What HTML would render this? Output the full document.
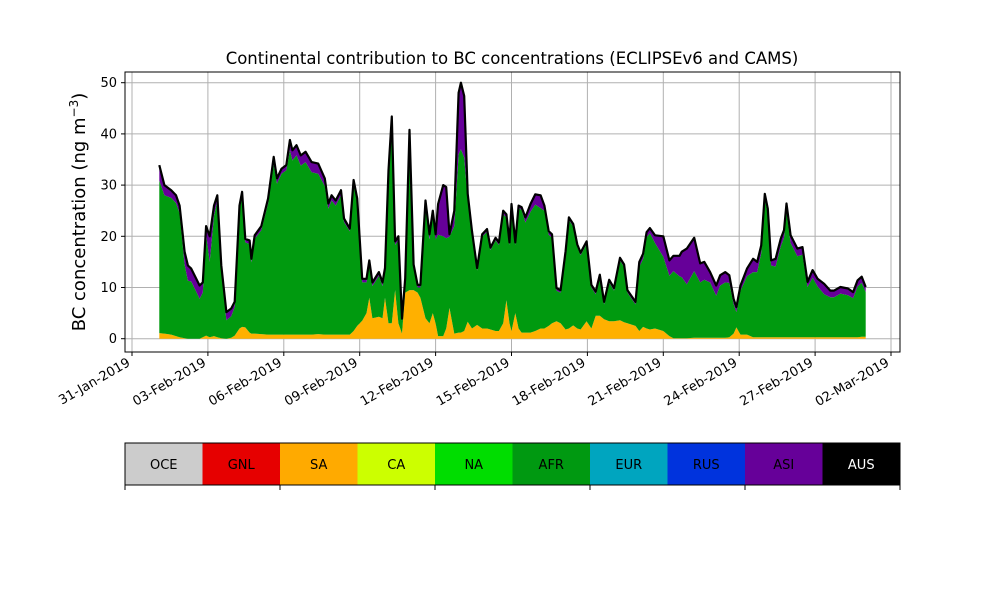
<!DOCTYPE html>
<html><head><meta charset="utf-8">
<style>
html,body{margin:0;padding:0;background:#fff;}
svg{display:block;font-family:"DejaVu Sans","Liberation Sans",sans-serif;}
</style></head>
<body>
<svg id="chart" width="1000" height="600" viewBox="0 0 1000 600" xmlns="http://www.w3.org/2000/svg">
  <rect x="0" y="0" width="1000" height="600" fill="#fff"/>
  <text x="512" y="64" text-anchor="middle" font-size="16.5" fill="#000">Continental contribution to BC concentrations (ECLIPSEv6 and CAMS)</text>
  <g id="grid"></g>
  <g id="areas"></g>
  <g id="axes"></g>
  <text transform="translate(85,212) rotate(-90)" text-anchor="middle" font-size="18" fill="#000">BC concentration (ng m<tspan baseline-shift="super" font-size="12">−3</tspan>)</text>
  <g id="legend"></g>
</svg>
<script>
// Day offsets from 31-Jan-2019 00:00
const days = [1.08,1.28,1.55,1.74,1.88,2.08,2.21,2.34,2.67,2.8,2.93,3.07,3.24,3.37,3.53,3.73,3.92,4.06,4.25,4.35,4.48,4.65,4.72,4.85,5.11,5.38,5.6,5.73,5.91,6.1,6.24,6.34,6.5,6.67,6.86,7.1,7.36,7.62,7.76,7.89,8.05,8.26,8.38,8.61,8.76,8.9,9.1,9.27,9.38,9.5,9.76,9.9,10.0,10.14,10.27,10.4,10.53,10.67,10.8,10.97,11.13,11.29,11.4,11.6,11.76,11.89,12.0,12.1,12.3,12.42,12.55,12.74,12.91,13.0,13.13,13.27,13.44,13.64,13.84,14.03,14.17,14.37,14.5,14.67,14.8,14.92,15.0,15.15,15.28,15.4,15.55,15.75,15.94,16.15,16.3,16.47,16.6,16.78,16.94,17.14,17.27,17.44,17.6,17.73,17.97,18.16,18.33,18.49,18.66,18.86,19.05,19.29,19.45,19.58,19.9,20.05,20.2,20.34,20.47,20.67,21.0,21.24,21.4,21.64,21.73,21.93,22.22,22.46,22.62,22.85,23.09,23.25,23.45,23.61,23.78,23.89,24.05,24.31,24.55,24.71,24.87,25.01,25.13,25.26,25.44,25.64,25.77,25.87,26.03,26.3,26.5,26.7,26.9,27.1,27.36,27.6,27.75,28.0,28.3,28.5,28.68,28.84,29.0];
const saVals = [1.1,1.0,0.8,0.5,0.3,0.1,0,0,0,0.3,0.6,0.3,0.5,0.3,0.1,0,0.2,0.6,2,2.3,2.2,1.2,1,1,0.9,0.8,0.8,0.8,0.8,0.8,0.8,0.8,0.8,0.8,0.8,0.8,0.9,0.8,0.8,0.8,0.8,0.8,0.8,0.8,1.5,2.5,3.5,5,8,4,4.3,4,8,3,3,9.5,3,1,9,9.5,9.5,9,8,4,3,5,3,0.5,0.5,2,6,1,1.2,1.2,1.5,3.3,2,2.7,2,2,1.8,1.5,1.5,3,7.5,3,1.5,5,2,1.2,1.2,1.2,1.5,2,2,2.5,3,3.4,3,1.8,2,2.6,2,1.8,3.4,2,4.5,4.5,3.8,3.4,3.4,3.6,3.2,3,2.5,1.5,2.3,2,1.8,2,1.5,0.5,0.1,0.1,0.1,0.1,0.2,0.2,0.2,0.2,0.2,0.2,0.2,0.3,1,2.2,0.8,0.8,0.3,0.3,0.3,0.3,0.3,0.3,0.3,0.3,0.3,0.3,0.3,0.3,0.3,0.3,0.3,0.3,0.3,0.3,0.3,0.3,0.3,0.3,0.3,0.4,0.4];
const afrVals = [29.8,27,26.7,26,24.2,14.4,11.3,11.2,7.8,8.7,19.9,14.7,23.5,26.7,13.2,3.6,4.2,5.6,23,25.6,16.6,17.3,13.9,18.5,20.3,25.6,33.2,29.5,31.4,32.1,36,34,35,33,33.7,31.7,31.3,29,24.6,26.2,25.2,27.2,22,20.2,28.7,24.2,7.5,6,6.6,6.3,8,6.3,5.1,28.9,39.4,8.8,16.3,2.4,2.3,30.3,4.5,1,2,22,16.4,19,16.4,19.8,19.5,17.6,13.9,21,34.8,35.8,33.9,24,18.5,10.6,17.9,18.9,15.5,17.7,16.8,21.3,16.1,15.3,24.3,13.3,23.5,24,21.5,23.6,24.7,23.5,23,17.8,16.7,6,6,14.8,21.2,19.3,15.9,14.5,15.1,8,4.2,7.5,2.9,7.6,6,11.7,10.8,6,4.2,12.5,13.3,17.8,18.8,16.7,14.5,11.8,13.1,12.1,11.9,10.5,13,10.8,11.3,10.8,8.2,10.2,10.8,10.6,5.8,3,8.6,11.4,12.7,12.7,16.4,27,24.1,14,13.8,17.7,19.4,24.6,18.4,15.8,16.1,9.8,11.6,9.9,8.4,7.8,7.8,8.5,8.2,7.6,9.9,10.5,8.7];
const asiVals = [3,2,1.5,1.5,1.5,2.5,3,2.5,2.6,2,1.5,5,2,1,1,1.6,1.5,1,1,0.8,0.7,0.7,0.7,0.7,0.8,1,1.5,1,1,1,2,2,2,2,2,2,2,1.5,1,1,1,1,0.7,0.5,0.8,0.7,0.7,0.7,0.7,0.7,0.7,0.7,0.7,1,1,0.7,0.7,0.5,0.5,1,0.5,0.5,0.5,1,1,1,1,6,10,10,0.5,3,12,13,12,1,0.5,0.5,0.5,0.5,0.5,0.5,0.5,0.7,0.7,0.5,0.5,0.5,0.5,0.5,1,1.5,2,2.5,1,0.7,0.7,0.5,0.5,0.5,0.5,0.5,0.5,0.5,0.5,0.5,0.5,0.5,0.5,0.5,0.5,0.5,0.5,0.5,0.5,1,1,1,1,1.5,4,3,3,4,5,7,6.5,3.7,3.5,2,2,2,2,1.5,1,1,1,1.5,2.6,2,1.5,1,1,1,1.5,1.5,1.5,1.5,1.5,1.5,1.5,1,1.5,1.5,2,1.3,1.3,1.3,1.3,1.2,1.2,1.2,1];
const yTicks = [0,10,20,30,40,50];
const xTickDays = [0,3,6,9,12,15,18,21,24,27,30];
const xTickLabels = ["31-Jan-2019","03-Feb-2019","06-Feb-2019","09-Feb-2019","12-Feb-2019","15-Feb-2019","18-Feb-2019","21-Feb-2019","24-Feb-2019","27-Feb-2019","02-Mar-2019"];
const legendNames = ["OCE","GNL","SA","CA","NA","AFR","EUR","RUS","ASI","AUS"];
const legendColors = ["#cccccc","#e60000","#ffaa00","#ccff00","#00dd00","#009911","#00a5bf","#0033dd","#660099","#000000"];

const NS="http://www.w3.org/2000/svg";
const PL=125,PR=900,PT=72,PB=352;
function xS(d){return 132+d*25.3;}
function yS(v){return 338.7-v*5.12;}
function mk(tag,attrs,parent){const e=document.createElementNS(NS,tag);for(const k in attrs)e.setAttribute(k,attrs[k]);parent.appendChild(e);return e;}

const grid=document.getElementById('grid');
const areas=document.getElementById('areas');
const axes=document.getElementById('axes');
const legend=document.getElementById('legend');

yTicks.forEach(v=>{
  const l=mk('line',{x1:PL,x2:PR,y1:yS(v),y2:yS(v),stroke:'#b0b0b0','stroke-width':1},grid);
  
  
});
xTickDays.forEach(d=>{
  const l=mk('line',{x1:xS(d),x2:xS(d),y1:PT,y2:PB,stroke:'#b0b0b0','stroke-width':1},grid);
  
  
});

const series=[{v:saVals,c:'#ffb000',n:'sa-area'},{v:afrVals,c:'#009a0f',n:'afr-area'},{v:asiVals,c:'#660099',n:'asi-area'}];
let base=days.map(()=>0);
series.forEach(s=>{
  const top=base.map((b,i)=>b+s.v[i]);
  let d='M'+days.map((t,i)=>xS(t).toFixed(1)+','+yS(top[i]).toFixed(1)).join('L');
  for(let i=days.length-1;i>=0;i--) d+='L'+xS(days[i]).toFixed(1)+','+yS(base[i]).toFixed(1);
  d+='Z';
  const p=mk('path',{d:d,fill:s.c,stroke:'none'},areas);
  
  
  base=top;
});
const totalLine=mk('path',{d:'M'+days.map((t,i)=>xS(t).toFixed(1)+','+yS(base[i]).toFixed(1)).join('L'),fill:'none',stroke:'#000','stroke-width':2.2,'stroke-linejoin':'round'},areas);



const frame=mk('rect',{x:PL,y:PT,width:PR-PL,height:PB-PT,fill:'none',stroke:'#000','stroke-width':1},axes);


yTicks.forEach(v=>{
  const t=mk('line',{x1:PL-4,x2:PL,y1:yS(v),y2:yS(v),stroke:'#000'},axes);
  
  
  const lb=mk('text',{x:PL-8,y:yS(v)+4.5,'text-anchor':'end','font-size':13},axes);
  lb.textContent=v;
  
  
});
xTickDays.forEach((d,i)=>{
  const t=mk('line',{x1:xS(d),x2:xS(d),y1:PB,y2:PB+4,stroke:'#000'},axes);
  
  
  const lb=mk('text',{transform:'translate('+(xS(d)-1)+','+(PB+13)+') rotate(-30)','text-anchor':'end','font-size':13},axes);
  lb.textContent=xTickLabels[i];
  
  
});

const LW=(PR-PL)/legendNames.length, LY=443, LH=42;
legendNames.forEach((n,i)=>{
  const r=mk('rect',{x:PL+i*LW,y:LY,width:LW,height:LH,fill:legendColors[i]},legend);
  
  
  const t=mk('text',{x:PL+i*LW+LW/2,y:LY+LH/2+5,'text-anchor':'middle','font-size':13,fill:n==='AUS'?'#fff':'#000'},legend);
  t.textContent=n;
  
  
});
const lf=mk('rect',{x:PL,y:LY,width:PR-PL,height:LH,fill:'none',stroke:'#000','stroke-width':1},legend);


for(let i=0;i<=legendNames.length;i+=2){
  const t=mk('line',{x1:PL+i*LW,x2:PL+i*LW,y1:LY+LH,y2:LY+LH+5,stroke:'#000'},legend);
  
  
}
</script>
</body></html>
